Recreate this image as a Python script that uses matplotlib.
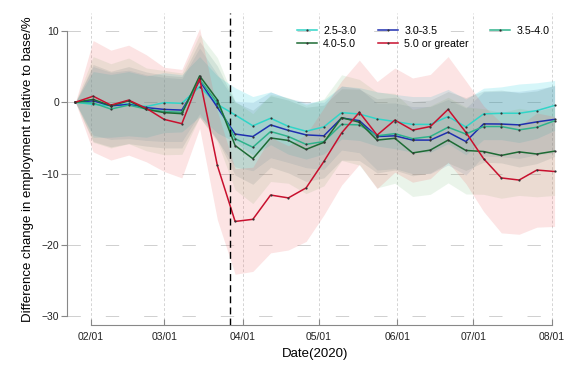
import numpy as np
import pandas as pd
import matplotlib
matplotlib.use("Agg")
import matplotlib.pyplot as plt
import matplotlib.dates as mdates

plt.rcParams['font.family'] = ['Liberation Sans', 'DejaVu Sans']

# weekly dates
fechas = pd.to_datetime([
    '2020-01-26', '2020-02-02', '2020-02-09', '2020-02-16', '2020-02-23',
    '2020-03-01', '2020-03-08', '2020-03-15', '2020-03-22', '2020-03-29',
    '2020-04-05', '2020-04-12', '2020-04-19', '2020-04-26', '2020-05-03',
    '2020-05-10', '2020-05-17', '2020-05-24', '2020-05-31', '2020-06-07',
    '2020-06-14', '2020-06-21', '2020-06-28', '2020-07-05', '2020-07-12',
    '2020-07-19', '2020-07-26', '2020-08-02'])

grupos = ['2.5-3.0', '3.0-3.5', '3.5-4.0', '4.0-5.0', '5.0 or greater']

mean_25 = [0, -0.3, -0.5, -0.2, -0.6, -0.05, -0.15, 2.2, -0.3, -1.77, -3.3, -2.24, -3.38, -4.06,
           -3.45, -1.45, -1.65, -2.33, -2.7, -3.1, -3.1, -2.0, -3.45, -1.63, -1.54, -1.54, -1.17, -0.45]
mean_30 = [0, 0.2, -0.5, -0.3, -0.75, -1.0, -1.1, 3.0, -0.7, -4.45, -4.8, -3.17, -3.94, -4.57,
           -4.7, -2.2, -2.57, -4.8, -4.7, -5.3, -5.3, -4.2, -5.5, -3.03, -3.05, -3.17, -2.75, -2.4]
mean_35 = [0, -0.1, -0.95, -0.4, -0.95, -1.3, -1.4, 3.2, -0.1, -5.1, -6.3, -4.1, -4.8, -5.9,
           -5.5, -3.1, -3.17, -4.7, -4.4, -5.1, -4.8, -3.5, -4.45, -3.4, -3.4, -3.87, -3.5, -2.6]
mean_40 = [0, 0.4, -0.5, 0.2, -1.0, -1.45, -1.6, 3.7, 0.35, -6.06, -7.9, -5.0, -5.35, -6.6,
           -5.62, -2.15, -2.8, -5.3, -5.05, -7.1, -6.7, -5.3, -6.75, -6.9, -7.45, -6.95, -7.25, -6.85]
mean_50 = [0, 0.85, -0.4, 0.3, -0.85, -2.4, -3.0, 3.35, -8.86, -16.7, -16.4, -13.0, -13.4, -12.0,
           -8.3, -4.3, -1.4, -4.6, -2.5, -3.9, -3.4, -1.0, -4.2, -7.9, -10.6, -10.9, -9.5, -9.7]

# half width of the confidence bands
err_25 = [0, 4.6, 4.4, 4.5, 4.3, 4.2, 4.0, 4.2, 4.0, 3.8, 4.1, 3.7, 3.9, 3.9,
          3.8, 3.7, 3.7, 3.8, 3.8, 3.9, 3.9, 3.8, 3.9, 3.6, 3.7, 4.1, 3.9, 3.5]
err_30 = [0, 4.8, 4.7, 4.8, 4.6, 4.5, 4.4, 4.6, 4.6, 4.6, 4.8, 4.6, 4.5, 4.6,
          4.7, 4.5, 4.5, 4.7, 4.6, 4.7, 4.7, 4.6, 4.7, 4.5, 4.6, 4.7, 4.6, 4.7]
err_35 = [0, 5.4, 5.3, 5.4, 5.2, 5.1, 5.0, 5.3, 5.2, 5.1, 5.2, 5.0, 5.1, 5.2,
          5.1, 5.0, 5.0, 5.2, 5.1, 5.2, 5.1, 5.0, 5.1, 5.0, 5.1, 5.2, 5.1, 5.0]
err_40 = [0, 6.0, 5.9, 6.0, 5.8, 5.9, 5.7, 5.8, 5.9, 6.2, 6.3, 6.1, 6.0, 6.2,
          6.1, 6.0, 6.0, 6.7, 6.3, 6.1, 6.2, 6.0, 6.1, 6.0, 6.0, 6.1, 6.0, 6.2]
err_50 = [0, 7.8, 7.7, 7.7, 7.5, 7.3, 7.6, 7.0, 7.6, 7.4, 7.3, 8.1, 7.3, 7.5,
          7.5, 7.3, 7.3, 7.5, 7.3, 7.3, 7.3, 7.4, 7.2, 7.4, 7.7, 7.6, 8.0, 7.7]

medias = [mean_25, mean_30, mean_35, mean_40, mean_50]
errores = [err_25, err_30, err_35, err_40, err_50]
col_linea = ['#30d5c8', '#1f2fb0', '#2fb38c', '#1d6b34', '#c8102e']
col_banda = ['#20d0e0', '#4682b4', '#4a7f7a', '#70b870', '#f06060']
alfa_banda = [0.18, 0.15, 0.15, 0.14, 0.17]

fig = plt.figure(figsize=(5.76, 3.84), dpi=100)
ax = fig.add_axes([0.1168, 0.1529, 0.976 - 0.1168, 0.966 - 0.1529])

lineas = []
for m, e, cb, a in zip(medias, errores, col_banda, alfa_banda):
    m = np.array(m)
    e = np.array(e)
    ax.fill_between(fechas, m - e, m + e, color=cb, alpha=a, linewidth=0, zorder=1)
for m, cl, g in zip(medias, col_linea, grupos):
    l, = ax.plot(fechas, m, color=cl, linewidth=1.1, marker='o', markersize=1.6,
                 markerfacecolor='#333333', markeredgecolor='none', label=g, zorder=3)
    lineas.append(l)

# dashed line for the start of the lockdown
ax.axvline(pd.Timestamp('2020-03-27'), color='black', linestyle=(0, (5, 3)), linewidth=1, zorder=4)

ax.set_xlim(pd.Timestamp('2020-02-01') - pd.Timedelta(days=9.2),
            pd.Timestamp('2020-02-01') + pd.Timedelta(days=186))
ax.set_ylim(-31.25, 12.5)

meses = pd.to_datetime(['2020-02-01', '2020-03-01', '2020-04-01', '2020-05-01',
                        '2020-06-01', '2020-07-01', '2020-08-01'])
ax.set_xticks(meses)
ax.xaxis.set_major_formatter(mdates.DateFormatter('%m/%d'))
ax.set_yticks([-30, -20, -10, 0, 10])

for s in ['top', 'right']:
    ax.spines[s].set_visible(False)
ax.spines['left'].set_bounds(-30, 10)
ax.spines['bottom'].set_bounds(mdates.date2num(meses[0]), mdates.date2num(meses[-1]))
ax.spines['left'].set_color('#888888')
ax.spines['bottom'].set_color('#888888')

ax.tick_params(axis='y', direction='out', length=4, width=0.8, color='#888888',
               labelsize=7.5, pad=2, labelcolor='#222222')
ax.tick_params(axis='x', direction='in', length=4, width=0.8, color='#888888',
               labelsize=7.5, pad=5, labelcolor='#222222')

ax.xaxis.grid(True, color='#c4c4c4', linestyle=(0, (4, 3)), linewidth=0.5, zorder=0)
ax.yaxis.grid(True, color='#c8c8c8', linestyle=(0, (16, 30)), linewidth=0.6, zorder=0)
ax.set_axisbelow(True)

ax.set_ylabel('Difference change in employment relative to base/%', fontsize=9.5)
ax.yaxis.set_label_coords(-0.067, 0.5)
ax.set_xlabel('Date(2020)', fontsize=9.5, labelpad=4)

orden = [0, 3, 1, 4, 2]
ax.legend([lineas[i] for i in orden], [grupos[i] for i in orden], ncol=3,
          loc='upper left', bbox_to_anchor=(0.515, 0.932), bbox_transform=fig.transFigure,
          frameon=False, fontsize=7.7, borderpad=0, borderaxespad=0,
          handlelength=1.87, handletextpad=0.62, columnspacing=2.0, labelspacing=0.25)

fig.savefig('out.png', dpi=100)
